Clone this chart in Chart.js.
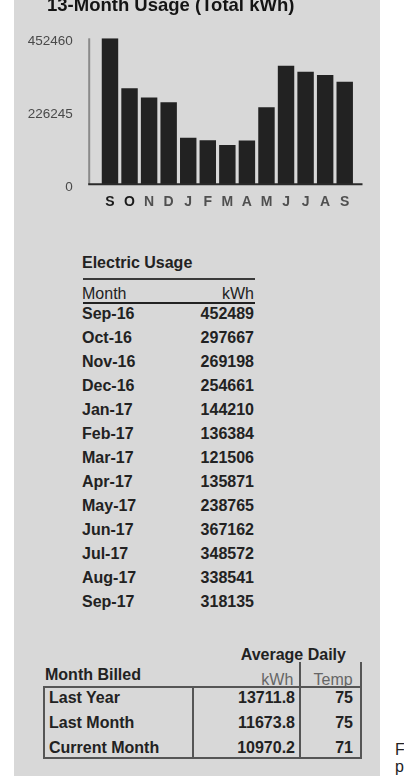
<!DOCTYPE html>
<html><head><meta charset="utf-8">
<script src="https://cdn.jsdelivr.net/npm/chart.js@4/dist/chart.umd.min.js"></script>
<style>
html,body{margin:0;padding:0;background:#fff;width:404px;height:781px;overflow:hidden;font-family:"Liberation Sans",Arial,sans-serif;}
#paper{position:absolute;left:14px;top:0;width:366px;height:776px;background:#d8d8d8;}
#chartBox{position:absolute;left:0;top:-5px;width:404px;height:235px;}
.t{position:absolute;white-space:nowrap;font-size:16px;line-height:24px;height:24px;color:#222;}
.b{font-weight:bold;}
.r{text-align:right;}
.g{color:#666;}
.ln{position:absolute;background:#444;}
</style></head><body>
<div id="paper"></div>
<div id="chartBox"><canvas id="c"></canvas></div>
<div id="tables"></div>
<script>
// ---- data ----
const monthLetters = ['S','O','N','D','J','F','M','A','M','J','J','A','S'];
const monthLabels = ['Sep-16','Oct-16','Nov-16','Dec-16','Jan-17','Feb-17','Mar-17','Apr-17','May-17','Jun-17','Jul-17','Aug-17','Sep-17'];
const usageKwh = [452489,297667,269198,254661,144210,136384,121506,135871,238765,367162,348572,338541,318135];
const yTicks = [0,226245,452460];
const billedPeriods = ['Last Year','Last Month','Current Month'];
const avgDailyKwh = ['13711.8','11673.8','10970.2'];
const avgDailyTemp = [75,75,71];

const FONT = '"Liberation Sans", Arial, sans-serif';

// L-shaped axis drawn slightly outside the bar area, as in the original print
const axisLines = {
  id:'axisLines',
  afterLayout(chart){
    // title starts further right than the tick labels
    chart.titleBlock.left = chart.chartArea.left - 53.2;
  },
  afterDatasetsDraw(chart){
    const {ctx, chartArea:a} = chart;
    const y0 = chart.scales.y.getPixelForValue(0);
    const x0 = a.left - 11;
    ctx.save();
    ctx.lineWidth = 2;
    ctx.strokeStyle = '#8a8a8a';
    ctx.beginPath(); ctx.moveTo(x0, a.top); ctx.lineTo(x0, y0); ctx.stroke();
    ctx.strokeStyle = '#2a2a2a';
    ctx.beginPath(); ctx.moveTo(x0 - 1, y0); ctx.lineTo(a.right + 8, y0); ctx.stroke();
    ctx.restore();
  }
};

new Chart(document.getElementById('c'), {
  type:'bar',
  data:{
    labels: monthLetters,
    datasets:[{data: usageKwh, backgroundColor:'#222222', borderWidth:0, categoryPercentage:1, barPercentage:0.84}]
  },
  options:{
    responsive:true, maintainAspectRatio:false, animation:false,
    layout:{padding:{left:18,right:49.5,top:0,bottom:15.7}},
    plugins:{
      legend:{display:false}, tooltip:{enabled:false},
      title:{display:true, text:'13-Month Usage (Total kWh)', align:'start', color:'#141414',
        font:{family:FONT,size:18.5,weight:'bold'}, padding:{top:0,bottom:21.1}}
    },
    scales:{
      x:{
        grid:{display:false, drawTicks:false}, border:{display:false},
        ticks:{color:(c)=> c.index < 2 ? '#1a1a1a' : '#505050', font:{family:FONT,size:14,weight:'bold'}, padding:9, maxRotation:0, autoSkip:false},
        afterFit(s){ s.height = 30; }
      },
      y:{
        min:0, max:452460,
        grid:{display:false, drawTicks:false}, border:{display:false},
        afterBuildTicks(s){ s.ticks = yTicks.map(v=>({value:v})); },
        ticks:{color:'#4a4a4a', font:{family:FONT,size:13.5}, padding:27.5, labelOffset:3, callback:(v)=>String(v)},
        afterFit(s){ s.width = 82.2; }
      }
    }
  },
  plugins:[axisLines]
});

// ---- tables ----
const T = document.getElementById('tables');
function txt(s, left, top, cls, width){
  const d = document.createElement('div');
  d.className = 't ' + (cls||'');
  d.textContent = s;
  d.style.left = left + 'px';
  d.style.top = top + 'px';
  if (width) d.style.width = width + 'px';
  T.appendChild(d);
}
function line(left, top, w, h, color){
  const d = document.createElement('div');
  d.className = 'ln';
  d.style.left = left+'px'; d.style.top = top+'px'; d.style.width = w+'px'; d.style.height = h+'px';
  if (color) d.style.background = color;
  T.appendChild(d);
}
// Electric usage table
txt('Electric Usage', 82, 251.3, 'b');
line(82.7, 278.3, 172.3, 2, '#3a3a3a');
txt('Month', 82, 282, '');
txt('kWh', 154, 282, 'r', 100);
line(82.7, 301.5, 172.3, 2, '#222');
monthLabels.forEach((m,i)=>{
  const top = 302 + 24.03*i;
  txt(m, 82, top, 'b');
  txt(String(usageKwh[i]), 154, top, 'b r', 100);
});

// Billing summary table
txt('Average Daily', 240.7, 643, 'b');
txt('Month Billed', 45, 663, 'b');
txt('kWh', 193.3, 668, 'g r', 100);
txt('Temp', 252.7, 668, 'g r', 100);
const box = document.createElement('div');
box.style.cssText = 'position:absolute;left:42.7px;top:686px;width:319px;height:73.3px;border:2px solid #555;box-sizing:border-box;';
T.appendChild(box);
line(191.7, 686, 2, 73.3, '#555');
line(299, 662, 2, 97.3, '#555');
line(359.7, 662, 2, 24, '#555');
const rowTops = [685.7, 710.7, 736.3];
billedPeriods.forEach((p,i)=>{
  txt(p, 49, rowTops[i], 'b');
  txt(avgDailyKwh[i], 195, rowTops[i], 'b r', 100);
  txt(String(avgDailyTemp[i]), 253, rowTops[i], 'b r', 100);
});

txt('F', 395, 737.5, '');
txt('p', 395, 754.5, '');
</script>
</body></html>
